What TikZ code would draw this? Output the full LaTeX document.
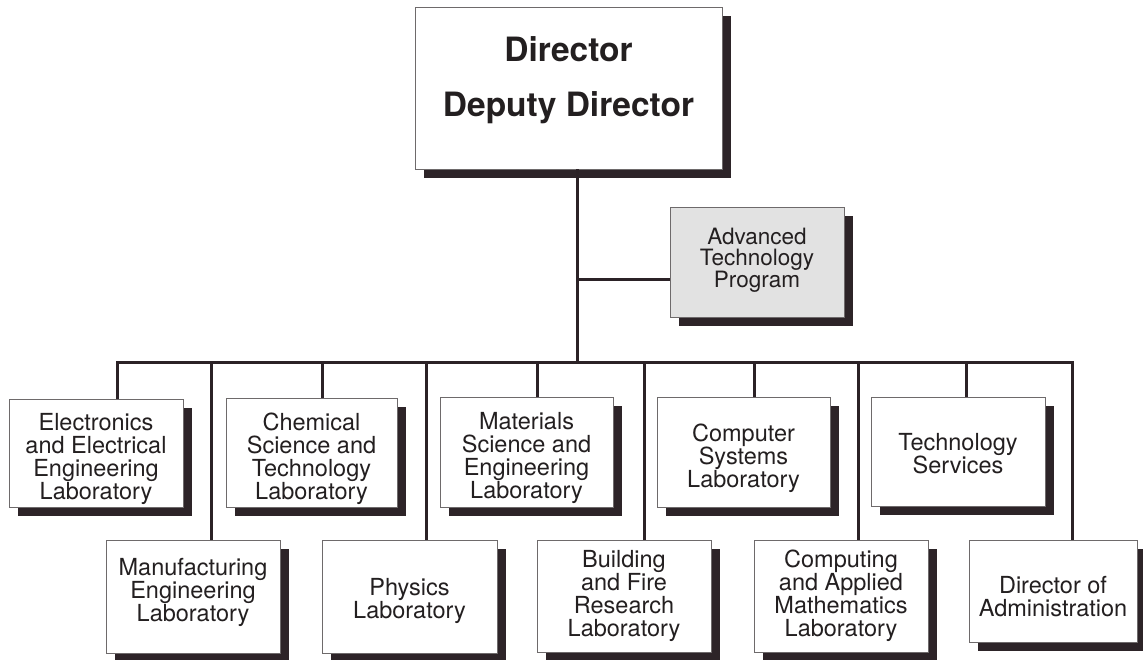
\documentclass[tikz,border=0pt]{standalone}
\usepackage{fontspec}
\setmainfont{TeX Gyre Heros}
\usetikzlibrary{shadows,calc}
\definecolor{linec}{HTML}{2B2226}
\definecolor{shadc}{HTML}{2D2428}
\definecolor{boxc}{HTML}{6E6A6B}
\definecolor{textc}{HTML}{231F20}
\definecolor{atpc}{HTML}{E2E2E2}
\newcommand{\labfont}{\fontsize{23.5}{23}\selectfont}
\newcommand{\atpfont}{\fontsize{22.5}{21.5}\selectfont}
\newcommand{\dirfont}{\fontsize{33.5}{55}\selectfont\bfseries}
\begin{document}
\begin{tikzpicture}[x=1pt,y=-1pt,
  orgbox/.style={draw=boxc, line width=0.9pt, fill=white, inner sep=0pt,
    general shadow={fill=shadc, shadow xshift=9pt, shadow yshift=-9pt}},
  txt/.style={align=center, inner sep=0pt, font=\labfont, text=textc},
  conn/.style={draw=linec, line width=3pt, line join=miter}]
\useasboundingbox[fill=white] (0,0) rectangle (1143,659);
% connector coordinates
\coordinate (trunk) at (577,362);
\coordinate (atpj) at (577,279);
\coordinate (b1) at (117,362);
\coordinate (b2) at (211,362);
\coordinate (b3) at (322,362);
\coordinate (b4) at (426,362);
\coordinate (b5) at (537,362);
\coordinate (b6) at (644,362);
\coordinate (b7) at (754,362);
\coordinate (b8) at (858,362);
\coordinate (b9) at (966,362);
\coordinate (b10) at (1072,362);
% boxes
\node[orgbox, minimum width=307pt, minimum height=162pt] (dir) at (568.5,88) {};
\node[orgbox, fill=atpc, minimum width=174pt, minimum height=110pt] (atp) at (757,262) {};
\node[orgbox, minimum width=174pt, minimum height=108pt] (eee) at (96,453) {};
\node[orgbox, minimum width=171pt, minimum height=109pt] (chem) at (311.5,452.5) {};
\node[orgbox, minimum width=173pt, minimum height=110pt] (mat) at (526.5,452) {};
\node[orgbox, minimum width=173pt, minimum height=110pt] (csl) at (743.5,452) {};
\node[orgbox, minimum width=174pt, minimum height=109pt] (ts) at (958,451.5) {};
\node[orgbox, minimum width=174pt, minimum height=113pt] (mel) at (193,596.5) {};
\node[orgbox, minimum width=175pt, minimum height=113pt] (phys) at (409.5,596.5) {};
\node[orgbox, minimum width=174pt, minimum height=112pt] (bfrl) at (624,596) {};
\node[orgbox, minimum width=174pt, minimum height=112pt] (caml) at (841,596) {};
\node[orgbox, minimum width=168pt, minimum height=102pt] (doa) at (1053,591) {};
% texts
\node[txt, font=\dirfont] (dirt) at ($(dir.center)+(0,-7.5)$) {Director\\Deputy Director};
\node[txt, font=\atpfont] (atpt) at ($(atp.center)+(0,-2)$) {Advanced\\Technology\\Program};
\node[txt] (eeet) at ($(eee.center)+(0,6)$) {Electronics\\and Electrical\\Engineering\\Laboratory};
\node[txt] (chemt) at ($(chem.center)+(0,6)$) {Chemical\\Science and\\Technology\\Laboratory};
\node[txt] (matt) at ($(mat.center)+(0,5.5)$) {Materials\\Science and\\Engineering\\Laboratory};
\node[txt] (cslt) at ($(csl.center)+(0,6)$) {Computer\\Systems\\Laboratory};
\node[txt] (tst) at ($(ts.center)+(0,2.5)$) {Technology\\Services};
\node[txt] (melt) at ($(mel.center)+(0,-4.5)$) {Manufacturing\\Engineering\\Laboratory};
\node[txt] (physt) at ($(phys.center)+(0,4)$) {Physics\\Laboratory};
\node[txt] (bfrlt) at ($(bfrl.center)+(0,0)$) {Building\\and Fire\\Research\\Laboratory};
\node[txt] (camlt) at ($(caml.center)+(0,0)$) {Computing\\and Applied\\Mathematics\\Laboratory};
\node[txt] (doat) at ($(doa.center)+(0,6)$) {Director of\\Administration};
% connectors
\draw[conn] (trunk |- dir.south) -- (trunk);
\draw[conn] (atpj) -- (atpj -| atp.west);
\draw[conn] (b1 |- eee.north) -- (b1) -- (b10) -- (b10 |- doa.north);
\draw[conn] (b2) -- (b2 |- mel.north);
\draw[conn] (b3) -- (b3 |- chem.north);
\draw[conn] (b4) -- (b4 |- phys.north);
\draw[conn] (b5) -- (b5 |- mat.north);
\draw[conn] (b6) -- (b6 |- bfrl.north);
\draw[conn] (b7) -- (b7 |- csl.north);
\draw[conn] (b8) -- (b8 |- caml.north);
\draw[conn] (b9) -- (b9 |- ts.north);
\end{tikzpicture}
\end{document}
